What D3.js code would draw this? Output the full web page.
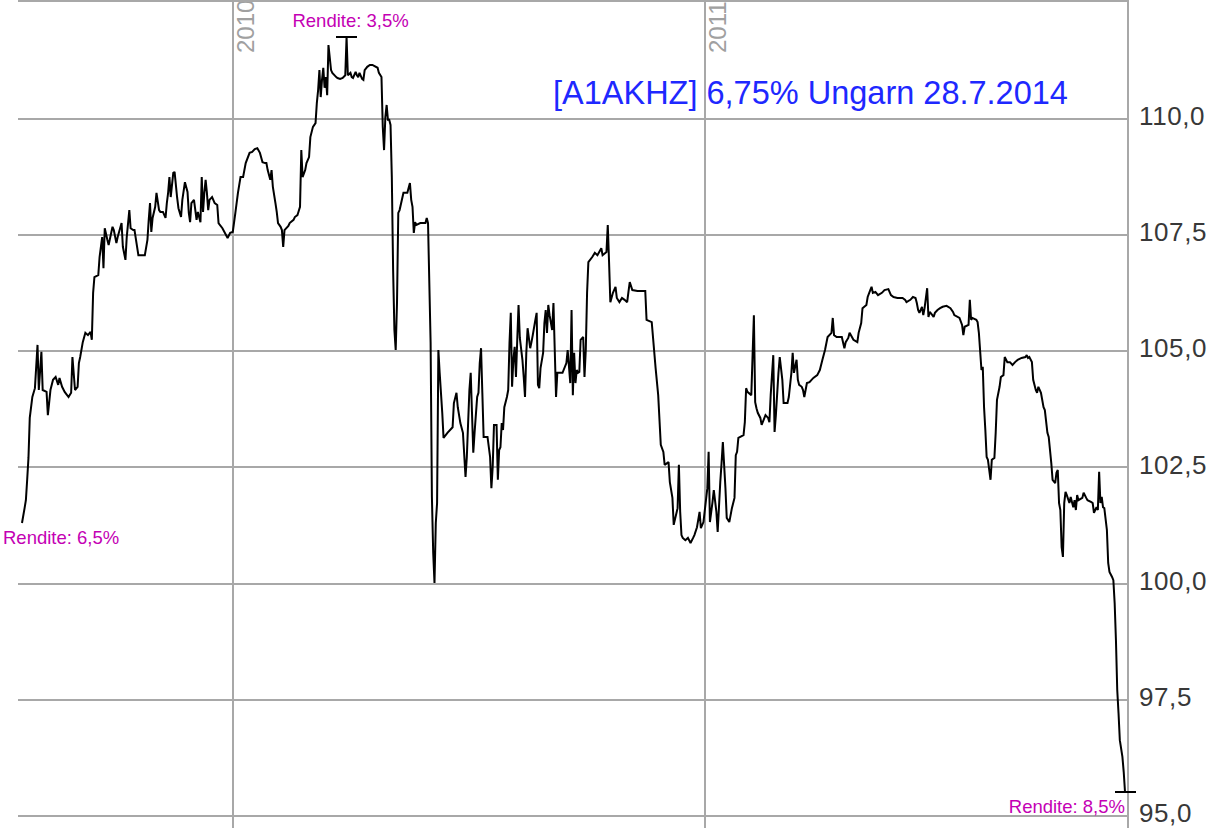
<!DOCTYPE html>
<html>
<head>
<meta charset="utf-8">
<script src="https://cdnjs.cloudflare.com/ajax/libs/d3/7.8.5/d3.min.js"></script>
<style>
  body { margin: 0; background: #fff; }
  text { font-family: "Liberation Sans", Arial, sans-serif; }
  .grid line { stroke: #a8a8a8; stroke-width: 2; shape-rendering: crispEdges; }
  .grid path { display: none; }
  .labels path, .labels line { display: none; }
</style>
</head>
<body>
<div class="chart"></div>
<script>
var svgWidth = 1222;
var svgHeight = 828;

// plot frame (grid runs from left edge to the price axis)
var frame = { left: 18, right: 1128, top: 0, bottom: 828 };

var title = "[A1AKHZ] 6,75% Ungarn 28.7.2014";
var startDay = "2009-07-22";

// trading days, counted from startDay, and closing prices
var dayOffsets = [
  0, 2, 3, 4, 5, 6, 8, 10, 12, 13, 15, 16, 19, 20, 22, 24, 26, 28, 29, 31,
  33, 36, 38, 39, 41, 43, 44, 45, 47, 49, 51, 53, 54, 55, 56, 59, 60, 62, 63, 64,
  66, 67, 70, 71, 73, 74, 77, 78, 80, 81, 83, 84, 86, 87, 90, 93, 95, 97, 98, 99,
  100, 101, 103, 104, 106, 107, 109, 111, 112, 113, 114, 115, 117, 118, 120, 121, 123, 124, 126, 128,
  129, 130, 131, 133, 135, 136, 138, 139, 140, 141, 142, 143, 144, 145, 147, 149, 151, 152, 153, 155,
  159, 161, 163, 165, 167, 169, 171, 173, 176, 178, 180, 182, 184, 186, 188, 189, 190, 192, 193, 194,
  196, 197, 198, 200, 201, 202, 203, 206, 207, 210, 211, 213, 215, 216, 217, 219, 220, 222, 223, 225,
  227, 228, 229, 230, 231, 232, 233, 234, 235, 236, 237, 239, 240, 243, 244, 246, 248, 250, 251, 252,
  254, 255, 256, 258, 259, 260, 261, 263, 264, 265, 267, 269, 271, 275, 276, 278, 279, 280, 281, 282,
  283, 284, 285, 286, 287, 288, 289, 290, 291, 292, 295, 297, 298, 300, 301, 302, 303, 304, 305, 308,
  309, 312, 313, 314, 316, 317, 318, 319, 320, 321, 322, 323, 325, 326, 329, 333, 334, 336, 337, 339,
  341, 343, 344, 345, 346, 347, 348, 349, 350, 352, 353, 354, 355, 356, 357, 360, 362, 363, 364, 365,
  367, 368, 369, 370, 371, 372, 373, 375, 376, 377, 378, 379, 380, 381, 382, 383, 384, 385, 387, 388,
  389, 390, 391, 393, 394, 395, 397, 398, 399, 400, 401, 403, 404, 405, 406, 407, 408, 410, 411, 412,
  413, 414, 416, 418, 421, 422, 424, 425, 426, 427, 428, 429, 430, 431, 432, 434, 435, 436, 437, 438,
  441, 443, 445, 448, 449, 452, 453, 454, 455, 457, 459, 460, 462, 464, 466, 468, 469, 470, 472, 476,
  479, 482, 483, 487, 490, 492, 494, 496, 497, 500, 501, 503, 504, 507, 508, 509, 510, 511, 513, 515,
  517, 519, 520, 522, 524, 525, 527, 530, 531, 532, 534, 535, 537, 538, 540, 541, 542, 544, 545, 547,
  549, 551, 552, 553, 554, 558, 559, 560, 561, 564, 565, 566, 567, 568, 569, 571, 572, 575, 577, 578,
  579, 581, 582, 583, 585, 586, 588, 589, 592, 593, 595, 596, 597, 599, 600, 601, 603, 604, 605, 607,
  609, 612, 615, 617, 619, 621, 623, 626, 627, 628, 630, 634, 636, 637, 639, 640, 643, 646, 647, 649,
  650, 653, 654, 656, 657, 658, 660, 662, 665, 667, 670, 672, 674, 677, 681, 683, 684, 687, 689, 691,
  692, 693, 694, 696, 697, 698, 700, 701, 702, 704, 705, 706, 708, 710, 712, 715, 718, 720, 721, 725,
  727, 728, 729, 732, 733, 734, 735, 738, 739, 740, 742, 743, 744, 745, 746, 747, 749, 750, 752, 753,
  754, 756, 757, 759, 760, 762, 764, 766, 768, 770, 773, 776, 777, 778, 779, 781, 782, 784, 785, 786,
  788, 790, 791, 793, 794, 795, 796, 797, 799, 800, 801, 802, 803, 804, 805, 806, 807, 808, 810, 811,
  813, 814, 815, 816, 817, 820, 821, 823, 824, 827, 828, 829, 831, 832, 833, 834, 835, 836, 837, 839,
  840, 841, 843, 844, 845, 846, 847, 848, 849, 851, 852, 853
];

var prices = [
  101.29, 101.61, 101.78, 102.22, 102.69, 103.55, 104.00, 104.19, 105.12, 104.15, 104.97, 104.15, 104.11, 103.61, 104.15, 104.37, 104.43, 104.26, 104.41, 104.22,
  104.11, 104.00, 104.09, 104.86, 104.15, 104.22, 104.73, 104.86, 105.18, 105.38, 105.33, 105.40, 105.23, 106.24, 106.58, 106.62, 107.01, 107.44, 106.77, 107.63,
  107.38, 107.27, 107.66, 107.59, 107.31, 107.44, 107.74, 107.23, 106.95, 107.44, 108.02, 107.63, 107.59, 107.59, 107.05, 107.05, 107.05, 107.38, 107.81, 108.17,
  107.55, 107.85, 108.09, 108.39, 108.02, 107.98, 107.98, 107.85, 108.17, 108.39, 108.73, 108.30, 108.82, 108.84, 108.28, 108.06, 107.87, 108.24, 108.62, 108.41,
  107.96, 107.76, 108.17, 108.24, 107.81, 107.98, 107.76, 108.73, 107.98, 108.39, 108.67, 108.39, 108.02, 108.24, 108.30, 108.17, 108.13, 107.74, 107.70, 107.63,
  107.42, 107.53, 107.55, 107.96, 108.39, 108.73, 108.73, 109.03, 109.25, 109.27, 109.33, 109.35, 109.25, 109.05, 109.03, 109.03, 108.88, 108.67, 108.88, 108.52,
  108.17, 107.98, 107.74, 107.66, 107.59, 107.23, 107.59, 107.68, 107.74, 107.81, 107.87, 107.91, 108.09, 109.31, 108.73, 108.88, 109.03, 109.16, 109.59, 109.81,
  109.89, 110.32, 110.60, 111.03, 110.45, 110.82, 111.08, 110.65, 110.88, 110.49, 111.57, 111.03, 110.97, 110.88, 110.86, 110.84, 110.86, 110.92, 111.74, 110.92,
  110.97, 110.88, 110.86, 110.99, 110.92, 110.88, 110.97, 110.84, 110.82, 111.03, 111.10, 111.14, 111.14, 111.08, 110.97, 110.88, 109.81, 109.31, 110.02, 110.28,
  109.96, 109.96, 109.85, 108.73, 106.73, 105.44, 105.01, 106.02, 107.96, 108.02, 108.39, 108.39, 108.39, 108.60, 108.24, 108.09, 107.53, 107.76, 107.70, 107.74,
  107.74, 107.74, 107.85, 107.74, 105.16, 101.85, 100.65, 100.00, 101.29, 101.72, 105.01, 104.52, 103.66, 103.12, 103.23, 103.35, 103.87, 104.09, 103.78, 103.44,
  103.23, 102.28, 102.71, 103.44, 104.15, 104.52, 103.66, 102.80, 103.23, 104.00, 104.09, 104.73, 105.05, 104.09, 103.14, 103.14, 102.71, 102.04, 102.49, 103.40,
  103.40, 102.22, 102.86, 102.92, 103.44, 103.29, 103.78, 104.00, 104.15, 105.16, 105.81, 104.22, 104.80, 105.08, 104.43, 105.23, 105.98, 105.27, 104.80, 104.43,
  104.00, 104.95, 105.48, 105.05, 105.18, 105.33, 105.66, 105.81, 104.26, 104.19, 104.62, 104.95, 105.59, 105.87, 105.38, 105.98, 105.76, 105.44, 106.02, 105.01,
  104.00, 104.52, 104.52, 104.52, 104.73, 105.01, 104.30, 105.87, 104.04, 104.95, 104.30, 104.58, 104.52, 104.54, 105.23, 105.29, 104.43, 105.01, 106.24, 106.90,
  107.01, 107.10, 107.05, 107.20, 107.05, 107.12, 107.70, 106.90, 106.04, 106.24, 106.37, 106.13, 106.04, 106.13, 106.09, 106.04, 106.26, 106.47, 106.30, 106.28,
  106.28, 106.28, 105.66, 105.61, 104.62, 104.04, 102.97, 102.82, 102.54, 102.60, 102.17, 101.83, 101.25, 101.61, 102.54, 101.53, 101.03, 100.97, 100.92, 100.97,
  100.86, 100.97, 101.03, 101.20, 101.53, 101.18, 101.31, 102.04, 102.82, 101.31, 101.74, 102.00, 101.53, 101.10, 102.17, 102.58, 103.03, 102.04, 101.40, 101.31,
  101.61, 101.83, 102.75, 102.82, 103.12, 103.18, 103.46, 104.19, 104.11, 104.04, 104.90, 105.76, 103.89, 103.76, 103.66, 103.55, 103.40, 103.61, 103.55, 103.46,
  104.04, 104.90, 103.25, 103.61, 104.52, 104.86, 104.37, 103.87, 103.87, 104.00, 104.52, 104.95, 104.52, 104.80, 104.37, 104.26, 104.22, 104.15, 104.00, 104.30,
  104.32, 104.41, 104.47, 104.58, 104.80, 105.01, 105.29, 105.38, 105.70, 105.33, 105.29, 105.29, 105.05, 105.18, 105.27, 105.38, 105.23, 105.18, 105.38, 105.59,
  105.91, 105.98, 106.15, 106.30, 106.37, 106.24, 106.26, 106.19, 106.24, 106.30, 106.32, 106.19, 106.15, 106.13, 106.13, 106.09, 106.04, 106.09, 106.15, 106.13,
  106.02, 105.87, 105.81, 105.94, 105.76, 105.91, 106.34, 105.72, 105.83, 105.76, 105.72, 105.81, 105.87, 105.91, 105.94, 105.96, 105.91, 105.83, 105.76, 105.70,
  105.55, 105.33, 105.51, 105.55, 106.09, 105.66, 105.70, 105.66, 105.61, 105.38, 104.58, 104.65, 103.78, 103.29, 102.71, 102.65, 102.22, 102.65, 102.69, 103.23,
  103.94, 104.22, 104.43, 104.47, 104.86, 104.75, 104.75, 104.69, 104.75, 104.80, 104.84, 104.86, 104.90, 104.84, 104.86, 104.75, 104.37, 104.15, 104.09, 104.22,
  104.09, 103.78, 103.72, 103.23, 103.14, 102.86, 102.58, 102.22, 102.15, 102.37, 102.43, 101.72, 101.57, 100.77, 100.56, 101.72, 101.96, 101.89, 101.72, 101.85,
  101.63, 101.78, 101.57, 101.89, 101.78, 101.83, 101.94, 101.83, 101.78, 101.74, 101.72, 101.51, 101.63, 101.57, 102.39, 101.72, 101.85, 101.63, 101.61, 101.14,
  100.43, 100.24, 100.13, 100.06, 99.57, 98.77, 97.70, 97.20, 96.62, 96.26, 95.94, 95.51
];

var priceTicks = [95, 97.5, 100, 102.5, 105, 107.5, 110];
var yieldStart = "Rendite: 6,5%";
var yieldHigh = "Rendite: 3,5%";
var yieldLow = "Rendite: 8,5%";

var parseDay = d3.timeParse("%Y-%m-%d");
var firstDate = parseDay(startDay);

var series = dayOffsets.map(function(d, i) {
  return { date: d3.timeDay.offset(firstDate, d), price: prices[i] };
});

var deLocale = d3.formatLocale({ decimal: ",", thousands: ".", grouping: [3], currency: ["", " €"] });
var priceFormat = deLocale.format(".1f");

var svg = d3.select(".chart")
  .append("svg")
  .attr("width", svgWidth)
  .attr("height", svgHeight)
  .style("display", "block")
  .style("background", "#fff");

var xTimeScale = d3.scaleTime()
  .domain(d3.extent(series, function(d) { return d.date; }))
  .range([22, 1125]);

var yLinearScale = d3.scaleLinear()
  .domain([95, 110])
  .range([815.5, 118]);

// horizontal grid
svg.append("g")
  .attr("class", "grid")
  .attr("transform", "translate(" + frame.right + ",0)")
  .call(d3.axisLeft(yLinearScale)
    .tickValues(priceTicks)
    .tickSize(frame.right - frame.left)
    .tickFormat(""));

// year lines + rotated year labels
var yearAxis = svg.append("g")
  .attr("class", "grid")
  .call(d3.axisBottom(xTimeScale)
    .ticks(d3.timeYear.every(1))
    .tickSize(frame.bottom)
    .tickFormat(d3.timeFormat("%Y")));

yearAxis.selectAll("text")
  .attr("transform", "rotate(-90)")
  .attr("x", -53)
  .attr("y", 21)
  .attr("dy", 0)
  .attr("text-anchor", "start")
  .style("font-size", "24px")
  .style("font-family", "'Liberation Sans', Arial, sans-serif")
  .attr("fill", "#a0a0a0");

// top border and price axis line
svg.append("line")
  .attr("x1", frame.left).attr("x2", frame.right)
  .attr("y1", 1).attr("y2", 1)
  .attr("stroke", "#a8a8a8").attr("stroke-width", 2)
  .style("shape-rendering", "crispEdges");

svg.append("line")
  .attr("x1", frame.right).attr("x2", frame.right)
  .attr("y1", frame.top).attr("y2", frame.bottom)
  .attr("stroke", "#a8a8a8").attr("stroke-width", 2)
  .style("shape-rendering", "crispEdges");

// price labels on the right
var priceAxis = svg.append("g")
  .attr("class", "labels")
  .attr("transform", "translate(" + frame.right + ",0)")
  .call(d3.axisRight(yLinearScale)
    .tickValues(priceTicks)
    .tickSize(0)
    .tickPadding(11)
    .tickFormat(priceFormat));

priceAxis.selectAll("text")
  .attr("dy", "0.24em")
  .style("font-size", "26px")
  .style("letter-spacing", "0.6px")
  .style("font-family", "'Liberation Sans', Arial, sans-serif")
  .attr("fill", "#383838");

// price line
var priceLine = d3.line()
  .x(function(d) { return xTimeScale(d.date); })
  .y(function(d) { return yLinearScale(d.price); });

svg.append("path")
  .datum(series)
  .attr("d", priceLine)
  .attr("fill", "none")
  .attr("stroke", "#000")
  .attr("stroke-width", 2)
  .attr("stroke-linejoin", "miter")
  .attr("stroke-miterlimit", 2);

// high / low markers
var highPoint = series[d3.maxIndex(series, function(d) { return d.price; })];
var lowPoint = series[d3.minIndex(series, function(d) { return d.price; })];

[highPoint, lowPoint].forEach(function(p) {
  svg.append("line")
    .attr("x1", xTimeScale(p.date) - 10.5)
    .attr("x2", xTimeScale(p.date) + 10.5)
    .attr("y1", yLinearScale(p.price))
    .attr("y2", yLinearScale(p.price))
    .attr("stroke", "#000")
    .attr("stroke-width", 2)
    .style("shape-rendering", "crispEdges");
});

var yieldColor = "#c400b4";

svg.append("text")
  .attr("x", 3)
  .attr("y", yLinearScale(series[0].price) + 21)
  .style("font-size", "18.5px")
  .attr("fill", yieldColor)
  .text(yieldStart);

svg.append("text")
  .attr("x", xTimeScale(highPoint.date) + 4)
  .attr("y", yLinearScale(highPoint.price) - 10)
  .attr("text-anchor", "middle")
  .style("font-size", "18.5px")
  .attr("fill", yieldColor)
  .text(yieldHigh);

svg.append("text")
  .attr("x", xTimeScale(lowPoint.date))
  .attr("y", yLinearScale(lowPoint.price) + 21)
  .attr("text-anchor", "end")
  .style("font-size", "18.5px")
  .attr("fill", yieldColor)
  .text(yieldLow);

// title
svg.append("text")
  .attr("x", 553)
  .attr("y", 104)
  .style("font-size", "32.5px")
  .attr("fill", "#1e28ff")
  .text(title);
</script>
</body>
</html>
